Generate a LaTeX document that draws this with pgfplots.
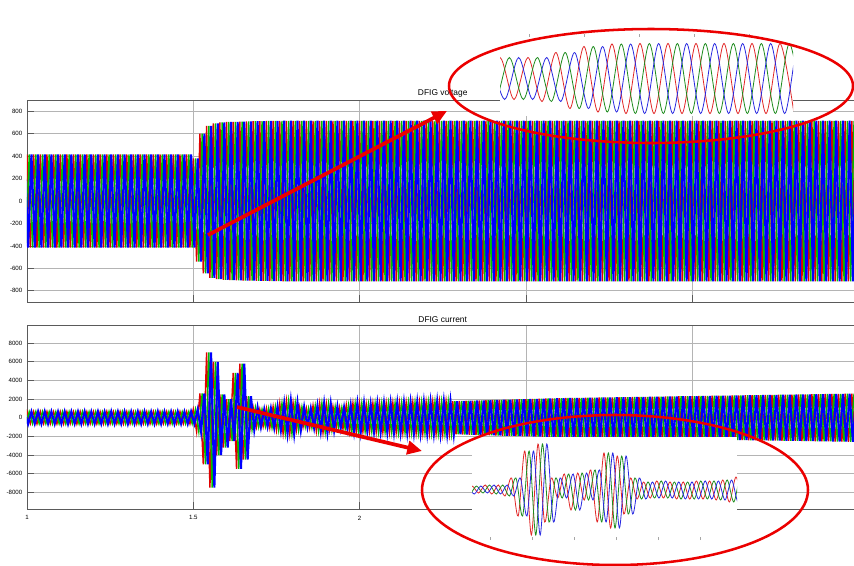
\documentclass[border=0pt]{standalone}
\usepackage{pgfplots}
\pgfplotsset{compat=1.18}
\usepackage{pgfplotstable}
\usepackage{fontspec}
\setmainfont{Liberation Sans}
\usetikzlibrary{arrows.meta}

\definecolor{pr}{RGB}{225,0,0}
\definecolor{pg}{RGB}{0,190,0}
\definecolor{pb}{RGB}{0,0,255}
\definecolor{ir}{RGB}{225,40,40}
\definecolor{ig}{RGB}{30,140,30}
\definecolor{ib}{RGB}{40,40,225}
\definecolor{gridc}{RGB}{180,180,180}
\definecolor{framec}{RGB}{90,90,90}
\definecolor{arr}{RGB}{235,0,0}

\pgfplotstableread[row sep=\\]{x y\\
0.97 -415\\ 0.98 415\\ 0.99 -415\\ 1.00 415\\ 1.01 -415\\ 1.02 415\\ 1.03 -415\\ 1.04 415\\ 1.05 -415\\ 1.06 415\\ 1.07 -415\\ 1.08 415\\ 1.09 -415\\ 1.10 415\\ 1.11 -415\\ 1.12 415\\ 1.13 -415\\ 1.14 415\\ 1.15 -415\\ 1.16 415\\ 1.17 -415\\ 1.18 415\\ 1.19 -415\\ 1.20 415\\ 1.21 -415\\ 1.22 415\\ 1.23 -415\\ 1.24 415\\ 1.25 -415\\ 1.26 415\\ 1.27 -415\\ 1.28 415\\ 1.29 -415\\ 1.30 415\\ 1.31 -415\\ 1.32 415\\ 1.33 -415\\ 1.34 415\\ 1.35 -415\\ 1.36 415\\ 1.37 -415\\ 1.38 415\\ 1.39 -415\\ 1.40 415\\ 1.41 -415\\ 1.42 415\\ 1.43 -415\\ 1.44 415\\ 1.45 -415\\ 1.46 415\\ 1.47 -415\\ 1.48 415\\ 1.49 -415\\
1.50 380\\ 1.51 -540\\ 1.52 600\\ 1.53 -645\\ 1.54 670\\ 1.55 -685\\ 1.56 692\\ 1.57 -697\\ 1.58 700\\ 1.59 -702\\ 1.60 704\\ 1.61 -705\\ 1.62 706\\ 1.63 -707\\ 1.64 708\\ 1.65 -709\\ 1.66 710\\ 1.67 -710\\ 1.68 711\\ 1.69 -711\\ 1.70 712\\ 1.71 -712\\ 1.72 713\\ 1.73 -713\\ 1.74 714\\ 1.75 -714\\
1.76 715\\ 1.77 -715\\ 1.78 715\\ 1.79 -715\\ 1.80 715\\ 1.81 -715\\ 1.82 715\\ 1.83 -715\\ 1.84 715\\ 1.85 -715\\ 1.86 715\\ 1.87 -715\\ 1.88 715\\ 1.89 -715\\ 1.90 715\\ 1.91 -715\\ 1.92 715\\ 1.93 -715\\ 1.94 715\\ 1.95 -715\\ 1.96 715\\ 1.97 -715\\ 1.98 715\\ 1.99 -715\\
2.00 715\\ 2.01 -715\\ 2.02 715\\ 2.03 -715\\ 2.04 715\\ 2.05 -715\\ 2.06 715\\ 2.07 -715\\ 2.08 715\\ 2.09 -715\\ 2.10 715\\ 2.11 -715\\ 2.12 715\\ 2.13 -715\\ 2.14 715\\ 2.15 -715\\ 2.16 715\\ 2.17 -715\\ 2.18 715\\ 2.19 -715\\ 2.20 715\\ 2.21 -715\\ 2.22 715\\ 2.23 -715\\ 2.24 715\\ 2.25 -715\\ 2.26 715\\ 2.27 -715\\ 2.28 715\\ 2.29 -715\\ 2.30 715\\ 2.31 -715\\ 2.32 715\\ 2.33 -715\\ 2.34 715\\ 2.35 -715\\ 2.36 715\\ 2.37 -715\\ 2.38 715\\ 2.39 -715\\ 2.40 715\\ 2.41 -715\\ 2.42 715\\ 2.43 -715\\ 2.44 715\\ 2.45 -715\\ 2.46 715\\ 2.47 -715\\ 2.48 715\\ 2.49 -715\\
2.50 715\\ 2.51 -715\\ 2.52 715\\ 2.53 -715\\ 2.54 715\\ 2.55 -715\\ 2.56 715\\ 2.57 -715\\ 2.58 715\\ 2.59 -715\\ 2.60 715\\ 2.61 -715\\ 2.62 715\\ 2.63 -715\\ 2.64 715\\ 2.65 -715\\ 2.66 715\\ 2.67 -715\\ 2.68 715\\ 2.69 -715\\ 2.70 715\\ 2.71 -715\\ 2.72 715\\ 2.73 -715\\ 2.74 715\\ 2.75 -715\\ 2.76 715\\ 2.77 -715\\ 2.78 715\\ 2.79 -715\\ 2.80 715\\ 2.81 -715\\ 2.82 715\\ 2.83 -715\\ 2.84 715\\ 2.85 -715\\ 2.86 715\\ 2.87 -715\\ 2.88 715\\ 2.89 -715\\ 2.90 715\\ 2.91 -715\\ 2.92 715\\ 2.93 -715\\ 2.94 715\\ 2.95 -715\\ 2.96 715\\ 2.97 -715\\ 2.98 715\\ 2.99 -715\\
3.00 715\\ 3.01 -715\\ 3.02 715\\ 3.03 -715\\ 3.04 715\\ 3.05 -715\\ 3.06 715\\ 3.07 -715\\ 3.08 715\\ 3.09 -715\\ 3.10 715\\ 3.11 -715\\ 3.12 715\\ 3.13 -715\\ 3.14 715\\ 3.15 -715\\ 3.16 715\\ 3.17 -715\\ 3.18 715\\ 3.19 -715\\ 3.20 715\\ 3.21 -715\\ 3.22 715\\ 3.23 -715\\ 3.24 715\\ 3.25 -715\\ 3.26 715\\ 3.27 -715\\ 3.28 715\\ 3.29 -715\\ 3.30 715\\ 3.31 -715\\ 3.32 715\\ 3.33 -715\\ 3.34 715\\ 3.35 -715\\ 3.36 715\\ 3.37 -715\\ 3.38 715\\ 3.39 -715\\ 3.40 715\\ 3.41 -715\\ 3.42 715\\ 3.43 -715\\ 3.44 715\\ 3.45 -715\\ 3.46 715\\ 3.47 -715\\ 3.48 715\\ 3.49 -715\\ 3.50 715\\ 3.51 -715\\ 3.52 715\\
}\voltdata

\pgfplotstableread[row sep=\\]{x y\\
0.97 -650\\ 0.98 640\\ 0.99 -660\\ 1.00 650\\ 1.01 -640\\ 1.02 660\\ 1.03 -650\\ 1.04 670\\ 1.05 -640\\ 1.06 650\\ 1.07 -660\\ 1.08 640\\ 1.09 -650\\ 1.10 660\\ 1.11 -670\\ 1.12 650\\ 1.13 -640\\ 1.14 650\\ 1.15 -660\\ 1.16 670\\ 1.17 -650\\ 1.18 640\\ 1.19 -650\\ 1.20 660\\ 1.21 -650\\ 1.22 640\\ 1.23 -660\\ 1.24 670\\ 1.25 -650\\ 1.26 650\\ 1.27 -640\\ 1.28 660\\ 1.29 -670\\ 1.30 650\\ 1.31 -640\\ 1.32 650\\ 1.33 -660\\ 1.34 660\\ 1.35 -650\\ 1.36 640\\ 1.37 -650\\ 1.38 670\\ 1.39 -660\\ 1.40 650\\ 1.41 -640\\ 1.42 650\\ 1.43 -660\\ 1.44 660\\ 1.45 -650\\ 1.46 640\\ 1.47 -650\\ 1.48 660\\ 1.49 -650\\
1.50 900\\ 1.51 -1500\\ 1.52 2600\\ 1.53 -5000\\ 1.54 7000\\ 1.55 -7500\\ 1.56 6000\\ 1.57 -4000\\ 1.58 2500\\ 1.59 -3200\\ 1.60 2000\\ 1.61 -2500\\ 1.62 4800\\ 1.63 -5500\\ 1.64 5800\\ 1.65 -4500\\ 1.66 2300\\ 1.67 -1300\\ 1.68 1100\\ 1.69 -1000\\
1.70 900\\ 1.71 -950\\ 1.72 1000\\ 1.73 -1100\\ 1.74 1200\\ 1.75 -1350\\ 1.76 1550\\ 1.77 -1700\\ 1.78 1800\\ 1.79 -1750\\ 1.80 1600\\ 1.81 -1350\\ 1.82 1150\\ 1.83 -1000\\ 1.84 1000\\ 1.85 -1100\\ 1.86 1300\\ 1.87 -1450\\ 1.88 1550\\ 1.89 -1600\\ 1.90 1500\\ 1.91 -1350\\ 1.92 1200\\ 1.93 -1100\\ 1.94 1100\\ 1.95 -1200\\ 1.96 1350\\ 1.97 -1500\\ 1.98 1550\\ 1.99 -1550\\
2.00 1550\\ 2.01 -1500\\ 2.02 1450\\ 2.03 -1500\\ 2.04 1550\\ 2.05 -1550\\ 2.06 1560\\ 2.07 -1570\\ 2.08 1580\\ 2.09 -1590\\ 2.10 1600\\ 2.11 -1610\\ 2.12 1620\\ 2.13 -1630\\ 2.14 1640\\ 2.15 -1650\\ 2.16 1660\\ 2.17 -1670\\ 2.18 1680\\ 2.19 -1690\\ 2.20 1700\\ 2.21 -1710\\ 2.22 1720\\ 2.23 -1730\\ 2.24 1740\\ 2.25 -1750\\ 2.26 1760\\ 2.27 -1770\\ 2.28 1780\\ 2.29 -1790\\ 2.30 1800\\ 2.31 -1810\\ 2.32 1820\\ 2.33 -1830\\ 2.34 1840\\ 2.35 -1850\\ 2.36 1860\\ 2.37 -1870\\ 2.38 1880\\ 2.39 -1890\\ 2.40 1900\\ 2.41 -1910\\ 2.42 1920\\ 2.43 -1930\\ 2.44 1940\\ 2.45 -1950\\ 2.46 1960\\ 2.47 -1970\\ 2.48 1980\\ 2.49 -1990\\
2.50 2000\\ 2.51 -2010\\ 2.52 2020\\ 2.53 -2030\\ 2.54 2040\\ 2.55 -2050\\ 2.56 2060\\ 2.57 -2070\\ 2.58 2080\\ 2.59 -2090\\ 2.60 2100\\ 2.61 -2106\\ 2.62 2111\\ 2.63 -2117\\ 2.64 2122\\ 2.65 -2128\\ 2.66 2133\\ 2.67 -2139\\ 2.68 2144\\ 2.69 -2150\\ 2.70 2155\\ 2.71 -2161\\ 2.72 2166\\ 2.73 -2172\\ 2.74 2177\\ 2.75 -2183\\ 2.76 2188\\ 2.77 -2194\\ 2.78 2199\\ 2.79 -2205\\ 2.80 2210\\ 2.81 -2216\\ 2.82 2221\\ 2.83 -2227\\ 2.84 2232\\ 2.85 -2238\\ 2.86 2243\\ 2.87 -2249\\ 2.88 2254\\ 2.89 -2260\\ 2.90 2265\\ 2.91 -2271\\ 2.92 2276\\ 2.93 -2282\\ 2.94 2287\\ 2.95 -2293\\ 2.96 2298\\ 2.97 -2304\\ 2.98 2309\\ 2.99 -2315\\
3.00 2320\\ 3.01 -2326\\ 3.02 2331\\ 3.03 -2337\\ 3.04 2342\\ 3.05 -2348\\ 3.06 2353\\ 3.07 -2359\\ 3.08 2364\\ 3.09 -2370\\ 3.10 2375\\ 3.11 -2381\\ 3.12 2386\\ 3.13 -2392\\ 3.14 2397\\ 3.15 -2403\\ 3.16 2408\\ 3.17 -2414\\ 3.18 2419\\ 3.19 -2425\\ 3.20 2430\\ 3.21 -2436\\ 3.22 2441\\ 3.23 -2447\\ 3.24 2452\\ 3.25 -2458\\ 3.26 2463\\ 3.27 -2469\\ 3.28 2474\\ 3.29 -2480\\ 3.30 2485\\ 3.31 -2491\\ 3.32 2496\\ 3.33 -2502\\ 3.34 2507\\ 3.35 -2513\\ 3.36 2518\\ 3.37 -2524\\ 3.38 2529\\ 3.39 -2535\\ 3.40 2540\\ 3.41 -2546\\ 3.42 2551\\ 3.43 -2557\\ 3.44 2562\\ 3.45 -2568\\ 3.46 2573\\ 3.47 -2579\\ 3.48 2584\\ 3.49 -2590\\ 3.50 2595\\ 3.51 -2601\\ 3.52 2606\\
}\curdata

\pgfplotstableread[row sep=\\]{x y\\
-28 21\\ -14 -21\\ 0 21\\ 14 -21\\ 28 21\\ 42 -23\\ 56 26\\ 70 -30\\ 84 32\\ 98 -33.5\\ 112 34.5\\ 126 -35\\ 140 35\\ 154 -35\\ 168 35\\ 182 -35\\ 196 35\\ 210 -35\\ 224 35\\ 238 -35\\ 252 35\\ 266 -35\\ 280 35\\ 294 -35\\
}\insetV

\pgfplotstableread[row sep=\\]{x y\\
-13.2 4\\ -6.6 -4\\ 0 4\\ 6.6 -3\\ 13.2 5\\ 19.8 -4\\ 26.4 5\\ 33.0 -6\\ 39.6 12\\ 46.2 -26\\ 52.8 39\\ 59.4 -45\\ 66.0 46\\ 72.6 -32\\ 79.2 12\\ 85.8 -8\\ 92.4 16\\ 99.0 -20\\ 105.6 17\\ 112.2 -10\\ 118.8 20\\ 125.4 -32\\ 132.0 37\\ 138.6 -38\\ 145.2 34\\ 151.8 -24\\ 158.4 12\\ 165.0 -9\\ 171.6 8\\ 178.2 -8\\ 184.8 9\\ 191.4 -8\\ 198.0 8\\ 204.6 -9\\ 211.2 8\\ 217.8 -9\\ 224.4 9\\ 231.0 -9\\ 237.6 9\\ 244.2 -10\\ 250.8 10\\ 257.4 -12\\ 264.0 13\\ 270.6 -13\\
}\insetC

\pgfplotsset{
  mainax/.style={
    scale only axis, width=623.6pt,
    xmin=1, xmax=3.5, xtick={1,1.5,2,2.5,3,3.5},
    grid=major, major grid style={gridc, line width=0.5pt},
    axis line style={framec, line width=0.5pt},
    tick style={framec, line width=0.5pt},
    major tick length=5pt, tick pos=left, tick align=inside,
    ticklabel style={font=\fontsize{4.6}{5}\selectfont},
    /pgf/number format/assume math mode=true,
    /pgf/number format/1000 sep={},
    scaled ticks=false,
    title style={font=\fontsize{6.3}{7}\selectfont, inner sep=1pt, yshift=-5.5pt},
  },
  insetax/.style={
    scale only axis, axis background/.style={fill=white},
    axis line style={draw=none}, ytick=\empty,
    tick align=inside, major tick length=2.5pt,
    tick style={gray!70, line width=0.4pt},
  },
}

\begin{document}
\begin{tikzpicture}
\useasboundingbox (0pt,0pt) rectangle (640.5pt,-423.75pt);
\clip (0pt,0pt) rectangle (640.5pt,-423.75pt);

% top axis: DFIG voltage
\begin{axis}[mainax, at={(20.25pt,-226.5pt)}, anchor=south west, height=151.5pt,
  ymin=-900, ymax=900, ytick={-800,-600,...,800}, xticklabels={,,,,,,},
  title={DFIG voltage}]
\addplot[pr, line width=1.05pt] table[x=x,y=y] {\voltdata};
\addplot[pg, line width=1.05pt, xshift=1.66pt] table[x=x,y=y] {\voltdata};
\addplot[pb, line width=1.6pt, xshift=3.33pt] table[x=x,y=y] {\voltdata};
\end{axis}

% bottom axis: DFIG current
\begin{axis}[mainax, at={(20.25pt,-381.75pt)}, anchor=south west, height=138pt,
  ymin=-9800, ymax=9950, ytick={-8000,-6000,...,8000},
  xticklabel style={yshift=-1.5pt},
  title={DFIG current}]
\addplot[pr, line width=1.05pt] table[x=x,y=y] {\curdata};
\addplot[pg, line width=1.05pt, xshift=1.66pt] table[x=x,y=y] {\curdata};
\addplot[pb, line width=1.6pt, xshift=3.33pt] table[x=x,y=y] {\curdata};
\end{axis}

% top inset
\begin{axis}[insetax, at={(375pt,-87pt)}, anchor=south west,
  width=219.75pt, height=61.5pt, xmin=0, xmax=293, ymin=-37.5, ymax=44.5,
  xtick={29,84,139,194,249}, xticklabels={,,,,,}, xtick pos=right]
\addplot[ir, line width=0.6pt, smooth] table[x=x,y=y] {\insetV};
\addplot[ig, line width=0.6pt, smooth, xshift=7pt] table[x=x,y=y] {\insetV};
\addplot[ib, line width=0.6pt, smooth, xshift=14pt] table[x=x,y=y] {\insetV};
\end{axis}

% bottom inset
\begin{axis}[insetax, at={(354pt,-405pt)}, anchor=south west,
  width=198.75pt, height=77.25pt, xmin=0, xmax=265, ymin=-50, ymax=53,
  xtick={18,60,102,144,186,228}, xticklabels={,,,,,,}, xtick pos=left]
\addplot[ir, line width=0.6pt, smooth] table[x=x,y=y] {\insetC};
\addplot[ig, line width=0.6pt, smooth, xshift=3.3pt] table[x=x,y=y] {\insetC};
\addplot[ib, line width=0.6pt, smooth, xshift=6.6pt] table[x=x,y=y] {\insetC};
\end{axis}

% annotations
\begin{scope}[x=0.75pt,y=-0.75pt]
\draw[arr, line width=1.9pt] (651,86) ellipse [x radius=151.5pt, y radius=42.75pt];
\draw[arr, line width=1.9pt] (615,490) ellipse [x radius=144.75pt, y radius=56.25pt];
\draw[arr, line width=2.8pt, -{Triangle[length=11pt,width=10pt]}] (208,235) -- (447,111);
\draw[arr, line width=2.8pt, -{Triangle[length=11pt,width=10pt]}] (237,407) -- (422,451);
\end{scope}
\end{tikzpicture}
\end{document}
